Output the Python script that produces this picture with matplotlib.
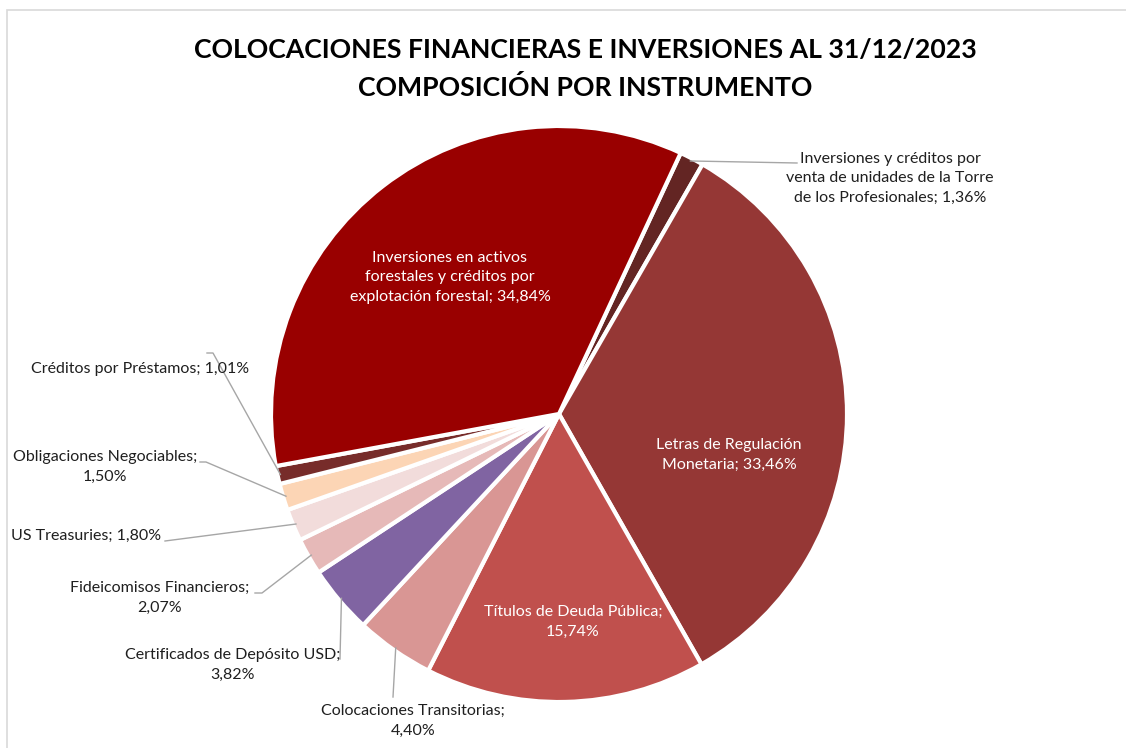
import numpy as np
import matplotlib.pyplot as plt
from matplotlib.patches import Rectangle

plt.rcParams['font.family'] = ['Lato', 'DejaVu Sans']

# data, clockwise from the top
labels = ['Inversiones y créditos por\nventa de unidades de la Torre\nde los Profesionales',
          'Letras de Regulación\nMonetaria',
          'Títulos de Deuda Pública',
          'Colocaciones Transitorias',
          'Certificados de Depósito USD',
          'Fideicomisos Financieros',
          'US Treasuries',
          'Obligaciones Negociables',
          'Créditos por Préstamos',
          'Inversiones en activos\nforestales y créditos por\nexplotación forestal']
shares = [1.36, 33.46, 15.74, 4.40, 3.82, 2.07, 1.80, 1.50, 1.01, 34.84]
colors = ['#632523', '#953735', '#C0504D', '#D99694', '#8064A2',
          '#E6B9B8', '#F2DCDB', '#FCD5B5', '#772C2A', '#990000']

W, H = 1126, 748
fig = plt.figure(figsize=(W / 100, H / 100), dpi=100)
ax = fig.add_axes([0, 0, 1, 1])
ax.set_xlim(0, W)
ax.set_ylim(0, H)
ax.set_aspect('equal')
ax.axis('off')

# chart border (cropped on the right and bottom)
fig.patches.append(Rectangle((7 / W, -0.1), 1.2, 1 - 10 / H + 0.1, transform=fig.transFigure,
                             fill=False, edgecolor='#D9D9D9', lw=1.2))

cx, cy, r = 559, H - 414, 288
start = 65
wedges, _ = ax.pie(shares, colors=colors, startangle=start, counterclock=False,
                   center=(cx, cy), radius=r, frame=True,
                   wedgeprops=dict(edgecolor='white', linewidth=3))
ax.set_xlim(0, W)
ax.set_ylim(0, H)
ax.axis('off')


def pct(v):
    return f'{v:.2f}'.replace('.', ',') + '%'


def edge_pt(i, frac=0.5, rr=1.0):
    a0 = start - sum(shares[:i]) * 3.6
    a = np.radians(a0 - shares[i] * 3.6 * frac)
    return cx + rr * r * np.cos(a), cy + rr * r * np.sin(a)


fs = 11.5
grey = '#A6A6A6'

# inside labels
inside = {1: (729, 455), 2: (573, 622), 9: (450, 277)}
for i, (x, y) in inside.items():
    sep = '; ' if i != 2 else ';\n'
    ax.text(x, H - y, labels[i] + sep + pct(shares[i]), ha='center', va='center',
            color='white', fontsize=fs, linespacing=1.5)

# outside labels: text position, alignment, leader path (elbow points in pixels)
outside = {
    0: ((890, 178), 'center', [(797, 163)]),
    3: ((413, 721), 'center', [(393, 697)]),
    4: ((233, 665), 'center', [(340, 659)]),
    5: ((160, 598), 'center', [(262, 593), (255, 593)]),
    6: ((86, 536), 'center', [(165, 541)]),
    7: ((105, 467), 'center', [(206, 462), (200, 462)]),
    8: ((140, 369), 'center', [(213, 353), (207, 353)]),
}
wrap = {3: ';\n', 4: ';\n', 5: ';\n', 7: ';\n'}
for i, ((x, y), ha, pts) in outside.items():
    ax.text(x, H - y, labels[i] + wrap.get(i, '; ') + pct(shares[i]), ha=ha, va='center',
            color='#1F1F1F', fontsize=fs, linespacing=1.5)
    px, py = edge_pt(i, 0.5, 0.99)
    xs = [px] + [p[0] for p in pts]
    ys = [py] + [H - p[1] for p in pts]
    ax.plot(xs, ys, color=grey, lw=1)

ax.text(585, H - 69, 'COLOCACIONES FINANCIERAS E INVERSIONES AL 31/12/2023\nCOMPOSICIÓN POR INSTRUMENTO',
        ha='center', va='center', fontsize=19.2, fontweight='bold', color='black', linespacing=1.62)

fig.savefig('out.png', dpi=100)
